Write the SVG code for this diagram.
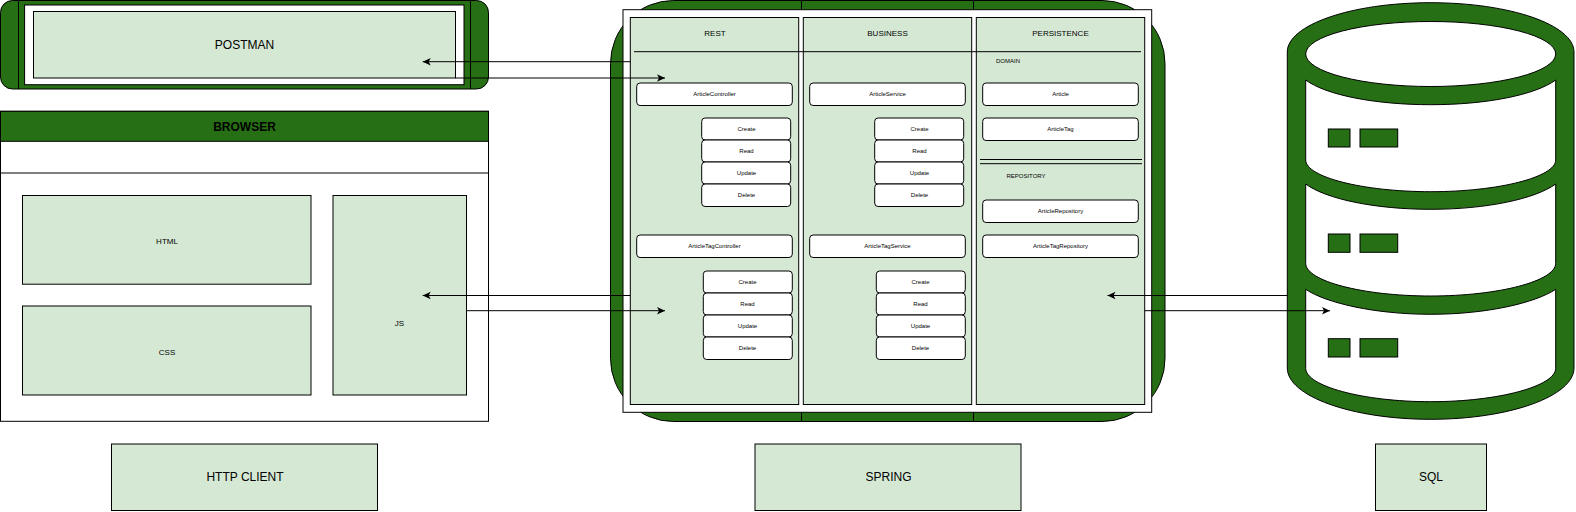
<svg xmlns="http://www.w3.org/2000/svg" width="1576" height="512" viewBox="0 0 1576 512">
<style>
text{font-family:"Liberation Sans",Arial,sans-serif;fill:#000;text-anchor:middle;dominant-baseline:central;opacity:.99}
.g{fill:#276f14;stroke:#000;stroke-width:1}
.l{fill:#d5e8d4;stroke:#000;stroke-width:1}
.w{fill:#fff;stroke:#000;stroke-width:1}
.c{fill:none;stroke:#000;stroke-width:1}
.s6{font-size:6px}.s8{font-size:8px}.s12{font-size:12px}
.b{font-weight:bold}
</style>
<defs>
<marker id="a" markerUnits="userSpaceOnUse" markerWidth="10" markerHeight="10" refX="8" refY="4" orient="auto">
<path d="M0 0.3L8 4L0 7.7L2 4Z" fill="#000"/>
</marker>
</defs>
<g id="postman">
<rect class="g" x="0.5" y="0.5" width="488" height="88.5" rx="12"/>
<path class="c" d="M18.5 0.5V89M470.5 0.5V89"/>
<rect class="w" x="24.6" y="5" width="439.4" height="79.7"/>
<rect class="l" x="33.5" y="11.5" width="422" height="66.5"/>
<text class="s12" x="244.5" y="45">POSTMAN</text>
</g>
<g id="browser">
<rect class="w" x="0.5" y="111.300" width="488" height="310"/>
<rect class="g" x="0.5" y="111.300" width="488" height="30"/>
<text class="s12 b" x="244.5" y="127">BROWSER</text>
<path class="c" d="M0.5 173H488.5"/>
</g>
<g id="html"><rect class="l" x="22.5" y="195.500" width="288.5" height="88.700"/><text class="s8" x="167" y="241.500">HTML</text></g>
<g id="css"><rect class="l" x="22.500" y="306" width="288.500" height="89"/><text class="s8" x="167" y="352.500">CSS</text></g>
<g id="js"><rect class="l" x="333" y="195.500" width="133.500" height="199.500"/><text class="s8" x="399.500" y="323.500">JS</text></g>
<g id="http-client"><rect class="l" x="111.500" y="444" width="266" height="66.500"/><text class="s12" x="245" y="477">HTTP CLIENT</text></g>
<g id="spring-box"><rect class="l" x="755" y="444" width="266" height="66.500"/><text class="s12" x="888.500" y="477">SPRING</text></g>
<g id="sql-box"><rect class="l" x="1375.500" y="444" width="111" height="66.500"/><text class="s12" x="1431" y="477">SQL</text></g>
<g id="spring">
<rect class="g" x="610.500" y="0.500" width="554.500" height="421" rx="63"/>
<path class="c" d="M801.500 0.500V421.500M973.500 0.500V421.500"/>
<rect class="w" x="623" y="9.700" width="528.700" height="402.600"/>
</g>
<g id="rest"><rect class="l" x="630.300" y="17.500" width="168.400" height="387"/><text class="s8" x="715" y="33.500">REST</text></g>
<g id="business"><rect class="l" x="803.300" y="17.500" width="168.400" height="387"/><text class="s8" x="887.500" y="33.500">BUSINESS</text></g>
<g id="persistence"><rect class="l" x="976.300" y="17.500" width="168.400" height="387"/><text class="s8" x="1060.500" y="33.500">PERSISTENCE</text></g>
<g id="dividers"><path class="c" d="M634 51.700H1141M980 159.500H1142M980 163.700H1142"/></g>
<g id="domain"><text class="s6" x="1008" y="61">DOMAIN</text></g>
<g id="repository"><text class="s6" x="1026" y="176">REPOSITORY</text></g>
<g id="article-controller"><rect class="w" x="636.700" y="83" width="155.600" height="22.500" rx="3.400"/><text class="s6" x="714.500" y="94">ArticleController</text></g>
<g id="article-service"><rect class="w" x="809.700" y="83" width="155.600" height="22.500" rx="3.400"/><text class="s6" x="887.500" y="94">ArticleService</text></g>
<g id="article"><rect class="w" x="982.700" y="83" width="155.600" height="22.500" rx="3.400"/><text class="s6" x="1060.500" y="94">Article</text></g>
<g id="article-tag"><rect class="w" x="982.700" y="118" width="155.600" height="22.500" rx="3.400"/><text class="s6" x="1060.500" y="129">ArticleTag</text></g>
<g id="article-repository"><rect class="w" x="982.700" y="200" width="155.600" height="22.500" rx="3.400"/><text class="s6" x="1060.500" y="211">ArticleRepository</text></g>
<g id="article-tag-repository"><rect class="w" x="982.700" y="235" width="155.600" height="22.500" rx="3.400"/><text class="s6" x="1060.500" y="246">ArticleTagRepository</text></g>
<g id="article-tag-controller"><rect class="w" x="636.700" y="235" width="155.600" height="22.500" rx="3.400"/><text class="s6" x="714.500" y="246">ArticleTagController</text></g>
<g id="article-tag-service"><rect class="w" x="809.700" y="235" width="155.600" height="22.500" rx="3.400"/><text class="s6" x="887.500" y="246">ArticleTagService</text></g>
<g id="rest-crud-1">
<rect class="w" x="701.700" y="118" width="89" height="22" rx="3.400"/><text class="s6" x="746.500" y="129">Create</text>
<rect class="w" x="701.700" y="140" width="89" height="22" rx="3.400"/><text class="s6" x="746.500" y="151">Read</text>
<rect class="w" x="701.700" y="162" width="89" height="22" rx="3.400"/><text class="s6" x="746.500" y="173">Update</text>
<rect class="w" x="701.700" y="184" width="89" height="22.500" rx="3.400"/><text class="s6" x="746.500" y="195">Delete</text>
</g>
<g id="business-crud-1">
<rect class="w" x="874.700" y="118" width="89" height="22" rx="3.400"/><text class="s6" x="919.500" y="129">Create</text>
<rect class="w" x="874.700" y="140" width="89" height="22" rx="3.400"/><text class="s6" x="919.500" y="151">Read</text>
<rect class="w" x="874.700" y="162" width="89" height="22" rx="3.400"/><text class="s6" x="919.500" y="173">Update</text>
<rect class="w" x="874.700" y="184" width="89" height="22.500" rx="3.400"/><text class="s6" x="919.500" y="195">Delete</text>
</g>
<g id="rest-crud-2">
<rect class="w" x="703.300" y="271" width="89" height="22" rx="3.400"/><text class="s6" x="747.500" y="282">Create</text>
<rect class="w" x="703.300" y="293" width="89" height="22" rx="3.400"/><text class="s6" x="747.500" y="304">Read</text>
<rect class="w" x="703.300" y="315" width="89" height="22" rx="3.400"/><text class="s6" x="747.500" y="326">Update</text>
<rect class="w" x="703.300" y="337" width="89" height="22.500" rx="3.400"/><text class="s6" x="747.500" y="348">Delete</text>
</g>
<g id="business-crud-2">
<rect class="w" x="876.300" y="271" width="89" height="22" rx="3.400"/><text class="s6" x="920.500" y="282">Create</text>
<rect class="w" x="876.300" y="293" width="89" height="22" rx="3.400"/><text class="s6" x="920.500" y="304">Read</text>
<rect class="w" x="876.300" y="315" width="89" height="22" rx="3.400"/><text class="s6" x="920.500" y="326">Update</text>
<rect class="w" x="876.300" y="337" width="89" height="22.500" rx="3.400"/><text class="s6" x="920.500" y="348">Delete</text>
</g>
<g id="sql">
<path class="g" fill-rule="evenodd" d="M1287.300 52C1287.300 25 1351 2.700 1430.700 2.700S1574 25 1574 52V368C1574 396 1510 419.300 1430.700 419.300S1287.300 396 1287.300 368Z
M1305.700 54A125 32.500 0 0 0 1555.700 54A125 32.500 0 0 0 1305.700 54Z
M1305.700 80C1326 95 1375 104.700 1430.700 104.700S1535 95 1555.700 80V160C1555.700 177 1499 191.700 1430.700 191.700S1305.700 177 1305.700 160Z
M1305.700 184C1326 199 1375 209.300 1430.700 209.300S1535 199 1555.700 184V263.300C1555.700 281 1499 296 1430.700 296S1305.700 281 1305.700 263.300Z
M1305.700 289.300C1326 303 1375 314.300 1430.700 314.300S1535 303 1555.700 289.300V368.300C1555.700 386 1499 401.700 1430.700 401.700S1305.700 386 1305.700 368.300Z"/>
<rect class="g" x="1328.300" y="129" width="21.700" height="18"/><rect class="g" x="1360" y="129" width="37.700" height="18"/>
<rect class="g" x="1328.300" y="234" width="21.700" height="18.300"/><rect class="g" x="1360" y="234" width="37.700" height="18.300"/>
<rect class="g" x="1328.300" y="338.700" width="21.700" height="18.300"/><rect class="g" x="1360" y="338.700" width="37.700" height="18.300"/>
</g>
<g id="connectors">
<path class="c" marker-end="url(#a)" d="M630.300 61.700H422.700"/>
<path class="c" marker-end="url(#a)" d="M455.500 78H665"/>
<path class="c" marker-end="url(#a)" d="M630.300 295.500H422.700"/>
<path class="c" marker-end="url(#a)" d="M466.500 310.700H665"/>
<path class="c" marker-end="url(#a)" d="M1287.300 295.500H1107.500"/>
<path class="c" marker-end="url(#a)" d="M1144.700 310.700H1330"/>
</g>
</svg>
